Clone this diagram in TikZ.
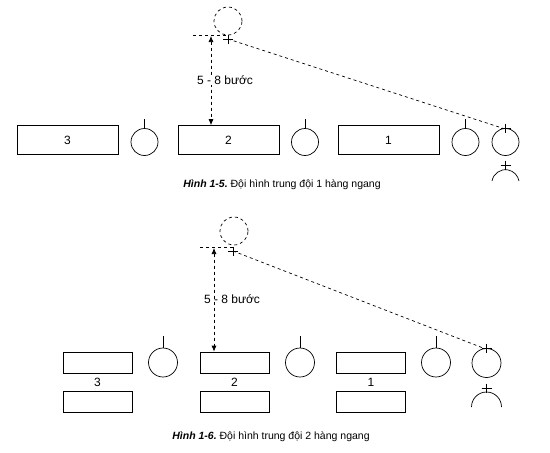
\documentclass[tikz,border=0pt]{standalone}
\usepackage{fontspec}
\setmainfont{Liberation Sans}
\usetikzlibrary{arrows.meta,calc}
\frenchspacing

% small plus sign over a soldier
\newcommand{\plusmark}[1]{\draw ($#1+(-5,0)$) -- ($#1+(5,0)$) ($#1+(0,-4.5)$) -- ($#1+(0,4.5)$);}

\begin{document}
\begin{tikzpicture}[x=1pt,y=-1pt,line width=0.7pt,
    >={Latex[length=6pt,width=5pt]},
    bigbox/.style={draw,minimum width=101pt,minimum height=29pt,inner sep=0pt,font=\fontsize{12}{14}\selectfont},
    smallbox/.style={draw,minimum width=69pt,minimum height=21pt,inner sep=0pt},
    man/.style={draw,circle,minimum size=#1,inner sep=0pt},
    ghost/.style={draw,circle,dashed,minimum size=28pt,inner sep=0pt},
    numlabel/.style={font=\fontsize{12}{14}\selectfont},
    caption/.style={font=\fontsize{10.5}{12}\selectfont}]
  \useasboundingbox (0,0) rectangle (550,453);

  % ---- Hinh 1-5 ----
  \node[bigbox] (b3) at (67.5,140) {3};
  \node[bigbox] (b2) at (228.5,140) {2};
  \node[bigbox] (b1) at (388.5,140) {1};
  \node[man=27pt] (s3) at (144.5,142) {};
  \node[man=27pt] (s2) at (305,142) {};
  \node[man=27pt] (s1) at (465.5,142) {};
  \node[man=27pt] (pl) at (505.5,142) {};
  \foreach \s in {s3,s2,s1}
    \draw (\s.north) -- ++(0,-9);
  \plusmark{(pl.north)}
  \draw (492,181) arc(190:350:13.7);
  \plusmark{(505.5,165)}

  \node[ghost] (old) at (228,21) {};
  \coordinate (pos) at (228,39);
  \plusmark{(pos)}
  \draw[dashed] (193,35) -- (pos |- 0,35);
  \draw[dashed] (pos) -- ($(pl.north)+(-3,0)$);
  \coordinate (top) at (211,36);
  \draw[dashed,<->] (top) -- (top |- b2.north);
  \node[numlabel,fill=white,inner sep=1pt] (dist) at (225,80) {5 - 8 bước};

  \node[caption] (cap1) at (282,185) {\textbf{\textit{Hình 1-5.}} Đội hình trung đội 1 hàng ngang};

  % ---- Hinh 1-6 ----
  \node[smallbox] (u3) at (97.5,362.5) {};
  \node[smallbox] (l3) at (97.5,401.5) {};
  \node[smallbox] (u2) at (234.5,362.5) {};
  \node[smallbox] (l2) at (234.5,401.5) {};
  \node[smallbox] (u1) at (371,362.5) {};
  \node[smallbox] (l1) at (371,401.5) {};
  \node[numlabel] at ($(u3)!0.5!(l3)$) {3};
  \node[numlabel] at ($(u2)!0.5!(l2)$) {2};
  \node[numlabel] at ($(u1)!0.5!(l1)$) {1};
  \node[man=29pt] (t3) at (163,362.5) {};
  \node[man=29pt] (t2) at (300,362.5) {};
  \node[man=29pt] (t1) at (436,362.5) {};
  \node[man=29pt] (pl2) at (486.5,363) {};
  \foreach \s in {t3,t2,t1}
    \draw (\s.north) -- ++(0,-12);
  \plusmark{(pl2.north)}
  \draw (471.5,407) arc(180:360:15);
  \plusmark{(486.5,388)}

  \node[ghost] (old2) at (234,231) {};
  \coordinate (pos2) at (233,251);
  \plusmark{(pos2)}
  \draw[dashed] (200,247) -- (pos2 |- 0,247);
  \draw[dashed] (pos2) -- ($(pl2.north)+(-3,0)$);
  \coordinate (top2) at (214,248);
  \draw[dashed,<->] (top2) -- (top2 |- u2.north);
  \node[numlabel] (dist2) at (232,299) {5 - 8 bước};

  \node[caption] (cap2) at (271,437) {\textbf{\textit{Hình 1-6.}} Đội hình trung đội 2 hàng ngang};
\end{tikzpicture}
\end{document}
